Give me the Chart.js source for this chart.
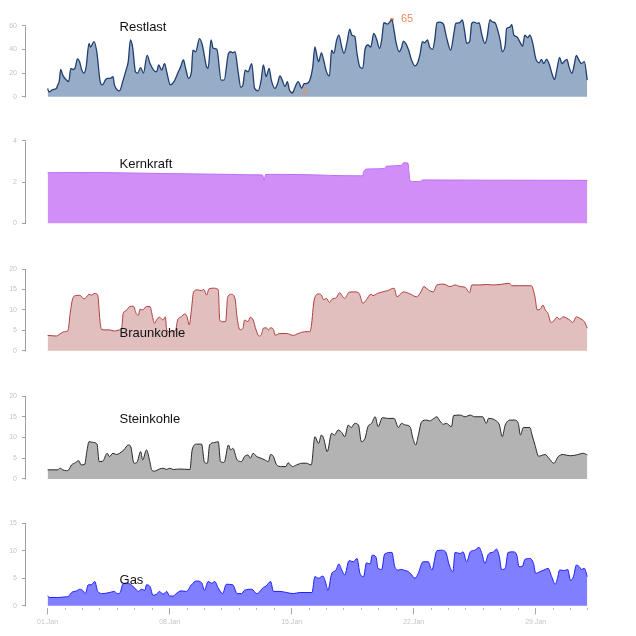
<!DOCTYPE html>
<html><head><meta charset="utf-8">
<script src="https://cdn.jsdelivr.net/npm/chart.js@4/dist/chart.umd.min.js"></script>
<style>
html,body{margin:0;padding:0;background:#fff;width:636px;height:636px;overflow:hidden;position:relative}
canvas{position:absolute;left:0}
</style>
</head><body>
<script>
// ---------------- DATA ----------------
const xTickLabels = ['01.Jan','08.Jan','15.Jan','22.Jan','29.Jan'];
const panelNames = ['Restlast','Kernkraft','Braunkohle','Steinkohle','Gas'];

const restHours = [0,2,7,12,14,16,18,21,26,29,32,35,38,41,44,47,50,53,57,59,64,68,72,75,77,80,83,86,90,92,96,99,104,108,111,114,117,121,124,128,132,137,141,146,150,153,157,161,164,169,174,180,183,187,190,194,198,200,204,209,213,219,221,225,228,233,239,243,249,252,255,258,262,266,269,272,276,281,285,290,294,297,301,305,308,313,316,320,323,327,330,333,337,340,345,350,353,356,361,365,368,371,373,377,380,384,388,391,394,398,401,405,408,412,416,419,423,426,430,434,437,441,445,449,453,457,460,463,468,471,474,477,480,484,487,490,493,497,501,506,509,513,516,519,523,526,530,533,536,540,545,549,555,559,562,567,571,574,577,581,584,587,592,594,598,602,605,609,613,616,619,623,626,630,632,636,639,642,646,650,654,657,661,664,668,672,677,680,683,687,691,695,698,701,705,708,711,715,718,722,725,728,731,735,739,743];
const restValues = [7,4,6,7,10,13,23,18,14,12.7,24,23,24.5,32,29.6,22.5,20,25,45,42,46.5,36.6,14,10,11,14.6,15.5,15.5,17,10,5.6,5,14,22.5,29.6,48,42,21,20,24.5,20,35,28,22.5,21,26.8,22.5,28,21,10,12.7,21,25,31,24,15.5,21,39.4,38,49,43.7,25,24,48,41,40,14,14,36.6,38,37,38,22.5,8,10,22.5,21,28,7,5,14,26.8,17,24,14,7,10,17.5,14,8.5,12.7,5.6,3,7,12.7,7,11,11,14,25,42,33.8,29.6,37,31,21,17.5,39.4,36.6,48,52,42,36.6,45,57,52,50.7,36.6,25,24,40,43.7,42,53.5,48.5,40.9,48,62.5,61.4,63,65,56,45,38,40.9,47,45,39.4,31,26,28,36.6,46.5,45.6,48,42,40,48,62.5,63,61.4,50.7,39.4,52,62,62.5,64.8,56,45,46.5,62,63,62,62.5,52,45,50,64.8,63,62.5,57.7,48,38,43.7,57.7,58.6,60.8,52,50.7,46.5,42.8,52,49.9,52,45,32.4,28.7,31.5,28,31.5,26.8,18.3,14.6,22.5,33.2,28,29.6,31.5,25,19.7,26.8,35,31.5,28,29.6,14];

const extremeHours = [337, 474];
const extremeValues = [3, 65];

const kernHours = [0,58,160,250,278,296,298,300,310,374,388,434,435,441,464,466,487,490,496,499,506,513,516,600,743];
const kernValues = [2.45,2.46,2.41,2.37,2.35,2.34,2.05,2.36,2.37,2.34,2.32,2.30,2.50,2.63,2.65,2.76,2.80,2.93,2.92,2.06,2.02,2.03,2.10,2.09,2.08];

const braunHours = [0,12,17,23,28,31,34,39,44,46,50,54,57,60,65,69,72,74,79,85,92,99,102,104,108,113,118,122,125,127,131,136,141,144,147,150,154,159,162,164,169,176,179,184,189,192,195,198,201,206,212,215,219,222,228,235,237,241,245,248,253,258,261,265,269,271,276,279,283,287,291,294,297,301,304,307,311,313,320,329,338,345,354,361,363,367,373,377,380,384,388,391,398,402,406,409,415,423,429,434,439,445,448,454,461,468,477,481,490,499,508,514,518,524,531,536,545,554,561,568,575,581,584,595,604,614,623,636,639,650,666,671,674,678,682,685,689,693,697,701,705,710,715,719,723,728,733,739,743];
const braunValues = [3.75,3.6,4.1,4.65,4.9,9.1,12.4,13.5,13.55,13.4,12.7,13.2,13.8,13.6,14.0,13.6,7.5,5.2,5.1,5.1,4.8,5.1,5.5,9.1,9.8,10.8,10.9,9.1,8.7,10.1,10,10.8,10.8,8.7,6.7,7.5,8.2,7.5,8.3,5.1,4.65,4.9,7.5,8.3,9.0,8.3,6.3,10,14.4,14.9,14.7,15.0,13.6,15.1,15.3,14.9,7.5,7.1,7.1,13.2,13.8,12.8,7.9,5.1,5.5,7.5,7.1,8.2,7.5,5.1,3.6,3.8,5.5,5.6,5.1,5.6,5.2,3.8,4.2,4.2,3.75,4.2,4.65,4.65,5.9,12.4,13.9,13.6,12.5,12.8,11.8,12.5,13.1,14.2,13.3,12.8,14.3,14.4,14.0,11.6,12.5,13.8,13.5,14.0,14.4,14.7,15.3,13.2,14.4,13.9,13.2,14.4,15.7,14.9,14.4,16.1,16.3,15.7,16.1,15.7,15.5,14.2,16.1,16.1,16.2,16.1,16.2,16.5,15.9,15.9,15.9,13.2,10,10.1,11.2,10,9.1,6.9,7.3,8.2,7.7,8.3,7.9,7.5,6.9,8.3,7.9,7.1,5.5];

const steinHours = [0,14,17,21,26,29,33,37,43,46,51,54,57,63,68,71,76,82,85,90,95,99,105,111,114,119,123,128,131,136,141,143,147,154,159,164,168,173,182,196,199,205,212,216,220,223,230,235,238,243,249,252,255,261,267,271,276,279,283,288,294,299,304,307,311,315,322,328,331,337,343,350,356,363,368,373,377,380,385,391,395,400,405,409,414,418,423,428,432,437,441,446,451,455,461,468,477,483,487,493,499,503,507,510,515,522,526,531,536,540,545,549,556,559,568,575,582,588,599,604,607,616,622,626,630,637,643,648,651,655,664,667,671,676,685,691,697,703,710,719,728,738,743];
const steinValues = [2.2,2.2,2.6,2.2,2.0,2.2,3.4,3.8,4.4,3.4,3.5,6.6,9.0,8.8,8.4,4.2,4.3,6.2,5.4,6.2,5.9,6.2,7.0,8.2,8.0,3.8,4.0,6.6,4.6,7.0,4.0,2.3,1.9,2.4,2.6,2.3,2.6,2.3,2.4,2.3,7.0,8.4,8.4,4.0,3.8,8.2,8.8,9.0,4.2,4.0,8.2,7.0,7.4,4.6,4.2,5.4,5.8,5.0,6.2,5.4,5.0,4.6,4.2,5.9,5.4,3.5,3.0,3.0,3.9,3.0,3.4,3.8,3.8,3.4,10.2,8.6,10.6,9.8,6.6,11.0,10.6,11.8,11.2,10.2,13.0,12.4,13.4,13.0,9.0,9.8,12.6,13.4,15.0,12.6,14.8,14.6,14.6,12.4,13.4,13.0,12.6,9.8,8.2,10.2,13.8,14.2,14.0,14.5,15.0,14.0,13.2,13.4,12.6,15.3,15.4,15.0,15.4,15.0,15.0,13.4,14.6,14.2,13.0,10.2,13.0,14.2,14.2,13.4,10.6,12.4,12.4,10.6,8.2,5.5,5.9,4.8,3.8,5.4,5.9,5.6,5.8,6.2,5.8];

const gasHours = [0,3,14,23,29,33,40,44,49,52,56,60,65,69,76,85,92,96,100,103,108,114,120,125,129,134,136,141,145,150,154,159,164,168,173,177,184,191,198,205,212,216,221,226,230,235,241,246,255,261,267,271,281,288,297,301,307,311,320,329,338,347,364,368,373,379,383,386,391,397,401,405,409,415,421,426,430,435,439,444,447,452,455,460,464,474,478,483,487,492,497,500,506,510,517,524,529,536,542,548,553,558,561,568,572,577,582,588,594,598,602,607,614,618,622,625,630,634,641,646,649,654,657,664,669,672,678,685,689,694,699,702,705,712,716,720,724,728,732,735,739,743];
const gasValues = [1.76,1.5,1.5,1.6,1.76,2.4,2.7,3.0,2.7,2.2,3.8,3.8,4.4,2.6,2.2,2.4,2.6,2.2,2.4,3.8,4.1,3.9,3.2,2.6,3.0,2.8,3.8,3.5,1.9,2.1,2.6,2.1,2.6,1.76,1.76,2.2,2.7,2.6,3.8,4.5,4.2,2.8,4.4,4.1,4.4,3.2,2.2,3.9,3.8,2.2,2.2,2.8,3.0,2.2,3.3,3.6,4.4,2.6,2.6,2.4,2.2,2.4,2.4,5.3,5.0,5.4,4.1,2.8,5.8,6.5,7.6,6.5,5.6,8.2,8.0,8.6,5.9,5.3,7.8,7.6,9.2,8.9,6.8,6.6,9.4,9.7,7.1,6.5,6.6,6.4,6.2,5.8,5.0,5.8,8.0,8.0,6.5,10.0,10.1,9.8,7.4,6.2,9.7,9.5,9.8,8.0,9.8,10.1,10.6,9.5,7.7,9.4,9.8,10.3,8.9,6.6,6.8,9.7,9.8,9.2,7.1,7.2,8.4,8.6,7.7,5.9,6.2,6.6,6.8,5.3,3.9,5.0,6.5,6.4,6.6,4.6,5.3,7.4,7.1,6.6,6.8,5.3];

const restTicks = [0,20,40,60];
const kernTicks = [0,2,4];
const braunTicks = [0,5,10,15,20];
const steinTicks = [0,5,10,15,20];
const gasTicks = [0,5,10,15];

// ---------------- LAYOUT / STYLE ----------------
const FONT = "'Liberation Sans', Arial, Helvetica, sans-serif";
const totalHours = 744;
const plotLeft = 26, plotRight = 609.6;

const panels = [
  {name: panelNames[0], hours: restHours, values: restValues, ticks: restTicks, zeroPx: 96.7, topPx: 25.7, ymin: -2, ymax: 72,
   fill: 'rgb(151,172,198)', line: 'rgb(32,62,112)', lw: 1.3, titleOffset: 1.2, titleY: 59.7, extremes: true},
  {name: panelNames[1], hours: kernHours, values: kernValues, ticks: kernTicks, zeroPx: 223.3, topPx: 140.7, ymin: -0.1, ymax: 4.2,
   fill: 'rgb(208,142,246)', line: 'rgb(188,112,240)', lw: 1, titleOffset: 1.5, titleY: 2.93},
  {name: panelNames[2], hours: braunHours, values: braunValues, ticks: braunTicks, zeroPx: 350.7, topPx: 269, ymin: -0.5, ymax: 21,
   fill: 'rgb(226,191,191)', line: 'rgb(178,60,60)', lw: 1, titleOffset: 1.5, titleY: 4.6},
  {name: panelNames[3], hours: steinHours, values: steinValues, ticks: steinTicks, zeroPx: 479, topPx: 396, ymin: -0.5, ymax: 21,
   fill: 'rgb(179,179,179)', line: 'rgb(40,40,40)', lw: 1, titleOffset: 1.5, titleY: 14.75},
  {name: panelNames[4], hours: gasHours, values: gasValues, ticks: gasTicks, zeroPx: 605.7, topPx: 523.3, ymin: -0.5, ymax: 16,
   fill: 'rgb(127,127,255)', line: 'rgb(30,30,255)', lw: 1, titleOffset: 1.2, titleY: 4.75, showX: true}
];
const titleHour = 99;

const axisLinePlugin = {
  id: 'rAxis',
  afterDraw(chart, args, opts) {
    const y = chart.scales.y, x = chart.scales.x, ctx = chart.ctx;
    const t = opts.ticks;
    ctx.save();
    ctx.strokeStyle = '#a0a0a0';
    ctx.lineWidth = 1;
    ctx.beginPath();
    const lx = Math.round(chart.chartArea.left) - 0.5;
    ctx.moveTo(lx, Math.round(y.getPixelForValue(t[0])) + 0.5);
    ctx.lineTo(lx, Math.round(y.getPixelForValue(t[t.length - 1])) + 0.5);
    ctx.stroke();
    ctx.fillStyle = '#111';
    ctx.font = '13px ' + FONT;
    ctx.textAlign = 'left';
    ctx.textBaseline = 'middle';
    ctx.fillText(opts.title, x.getPixelForValue(titleHour), y.getPixelForValue(opts.titleY) + opts.titleOffset);
    if (opts.extremes) {
      ctx.font = '11px ' + FONT;
      ctx.fillStyle = 'rgb(242,140,92)';
      for (let i = 0; i < extremeHours.length; i++) {
        ctx.fillText(String(extremeValues[i]), x.getPixelForValue(extremeHours[i]) + 9, y.getPixelForValue(extremeValues[i]) - 1);
      }
    }
    ctx.restore();
  }
};

panels.forEach((p) => {
  const s = (p.zeroPx - p.topPx) / p.ticks[p.ticks.length - 1];
  const chartTop = p.zeroPx - p.ymax * s;
  const chartBottom = p.zeroPx - p.ymin * s;
  const canvasTop = Math.max(0, Math.floor(chartTop) - 12);
  const canvasBottom = p.showX ? 636 : Math.ceil(chartBottom) + 12;
  const cv = document.createElement('canvas');
  cv.width = 636; cv.height = canvasBottom - canvasTop;
  cv.style.top = canvasTop + 'px';
  cv.style.width = '636px'; cv.style.height = (canvasBottom - canvasTop) + 'px';
  document.body.appendChild(cv);

  const datasets = [{
    data: p.hours.map((h, i) => ({x: h, y: p.values[i]})),
    borderColor: p.line, backgroundColor: p.fill, borderWidth: p.lw,
    fill: 'origin', pointRadius: 0, cubicInterpolationMode: 'monotone'
  }];
  if (p.extremes) {
    datasets.push({
      data: extremeHours.map((h, i) => ({x: h, y: extremeValues[i]})),
      showLine: false, fill: false, pointStyle: 'rect', pointRadius: 2.2,
      pointBackgroundColor: 'rgb(240,100,50)', pointBorderColor: 'rgb(240,100,50)', borderWidth: 0
    });
  }

  const xScale = {
    type: 'linear', min: -0.04 * totalHours, max: totalHours * 1.04,
    display: !!p.showX,
    afterBuildTicks: (sc) => {
      const t = [];
      for (let d = 0; d <= 31; d++) t.push({value: d * 24});
      sc.ticks = t;
    },
    border: {display: false},
    grid: {
      drawOnChartArea: false, drawTicks: true, tickLength: 6,
      tickColor: (c) => (c.tick && c.tick.value % 168 === 0) ? '#a8a8a8' : '#b8b8b8',
      tickBorderDash: (c) => (c.tick && c.tick.value % 168 === 0) ? [] : [2, 20]
    },
    ticks: {
      autoSkip: false, maxRotation: 0, padding: 3, color: '#c4c4c4',
      font: {size: 7, family: FONT},
      callback: (v) => (v % 168 === 0) ? xTickLabels[v / 168] : ''
    }
  };
  if (p.showX) xScale.afterFit = (sc) => { sc.height = canvasBottom - chartBottom; };

  new Chart(cv, {
    type: 'line',
    data: {datasets},
    plugins: [axisLinePlugin],
    options: {
      responsive: false, animation: false, devicePixelRatio: 1,
      events: [],
      layout: {padding: {left: 0, right: 636 - plotRight, top: chartTop - canvasTop, bottom: p.showX ? 0 : canvasBottom - chartBottom}},
      plugins: {
        legend: {display: false}, tooltip: {enabled: false},
        rAxis: {ticks: p.ticks, title: p.name, titleY: p.titleY, titleOffset: p.titleOffset, extremes: !!p.extremes}
      },
      scales: {
        x: xScale,
        y: {
          min: p.ymin, max: p.ymax,
          afterFit: (sc) => { sc.width = plotLeft; },
          afterBuildTicks: (sc) => { sc.ticks = p.ticks.map(v => ({value: v})); },
          border: {display: false},
          grid: {drawOnChartArea: false, drawTicks: true, tickLength: 4, tickColor: '#a0a0a0'},
          ticks: {padding: 5, color: '#c4c4c4', font: {size: 7, family: FONT}}
        }
      }
    }
  });
});
</script>
</body></html>
